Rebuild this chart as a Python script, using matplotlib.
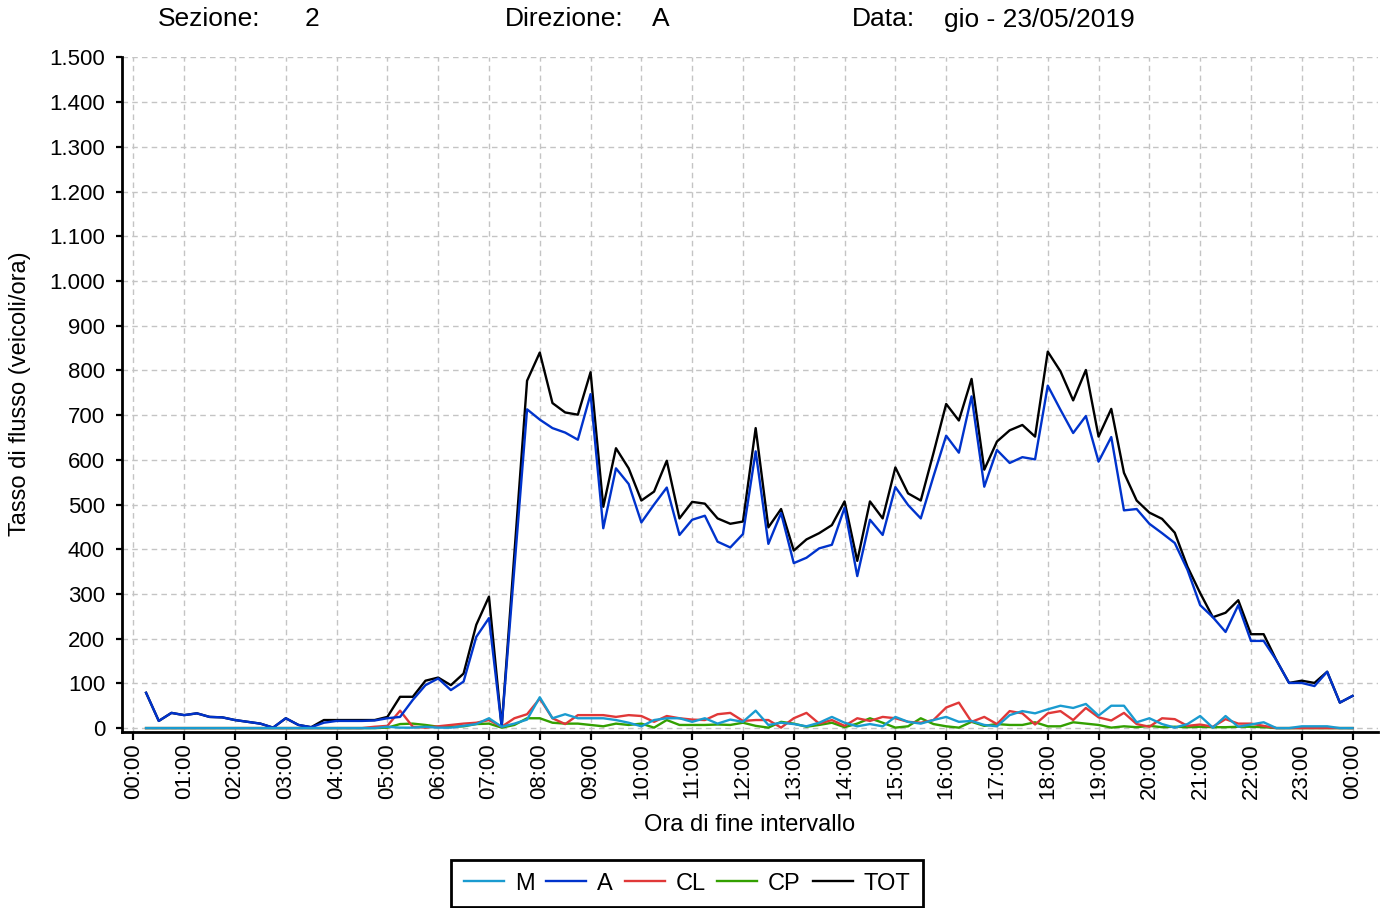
import numpy as np
import matplotlib
matplotlib.use("Agg")
import matplotlib.pyplot as plt
from matplotlib.ticker import FuncFormatter

plt.rcParams['font.family'] = ['Liberation Sans', 'DejaVu Sans']

# fine intervallo ogni 15 minuti: 00:15 ... 24:00
ore = np.arange(1, 97) * 0.25

A = [79, 16, 34, 29, 33, 25, 24, 18, 14, 10, 1, 22, 7, 2, 12, 16,
     16, 16, 17, 22, 25, 63, 96, 111, 85, 104, 204, 246, 3, 358, 713, 690,
     671, 661, 645, 747, 447, 581, 546, 460, 500, 538, 432, 466, 475, 417, 404, 434,
     619, 412, 481, 369, 381, 402, 410, 493, 340, 466, 432, 539, 499, 469, 563, 654,
     616, 742, 540, 622, 593, 606, 601, 766, 712, 660, 698, 596, 651, 487, 490, 457,
     436, 414, 354, 275, 248, 215, 275, 195, 195, 152, 101, 101, 94, 126, 57, 72]

TOT = [79, 16, 34, 29, 33, 25, 24, 18, 14, 10, 1, 22, 7, 2, 18, 18,
       18, 18, 18, 25, 70, 70, 106, 113, 96, 122, 231, 294, 3, 390, 777, 840,
       727, 706, 701, 796, 495, 626, 581, 509, 529, 598, 469, 506, 502, 469, 457, 462,
       671, 449, 490, 397, 422, 436, 454, 507, 374, 507, 469, 583, 525, 509, 615, 725,
       688, 781, 578, 641, 666, 678, 652, 842, 798, 733, 801, 652, 714, 571, 509, 482,
       468, 437, 361, 302, 248, 258, 286, 210, 210, 152, 101, 106, 101, 126, 57, 72]

M = [0, 0, 0, 0, 0, 0, 0, 0, 0, 0, 0, 0, 0, 0, 0, 0,
     0, 0, 0, 3, 1, 1, 3, 1, 1, 5, 9, 22, 3, 10, 19, 69,
     22, 31, 22, 22, 22, 18, 12, 4, 18, 22, 22, 14, 22, 10, 19, 14,
     39, 7, 12, 9, 4, 12, 25, 12, 4, 9, 4, 25, 14, 10, 18, 25,
     14, 16, 7, 4, 29, 38, 33, 42, 50, 45, 54, 28, 50, 50, 13, 22,
     9, 1, 9, 27, 1, 27, 3, 8, 13, 0, 0, 4, 4, 4, 0, 0]

CL = [0, 0, 0, 0, 0, 0, 0, 0, 0, 0, 0, 0, 0, 0, 0, 0,
      0, 0, 3, 5, 39, 3, 1, 4, 7, 10, 12, 18, 3, 22, 31, 66,
      22, 9, 29, 29, 29, 25, 29, 27, 14, 27, 22, 19, 18, 31, 34, 16,
      18, 18, 1, 22, 34, 10, 18, 5, 22, 16, 25, 22, 14, 12, 18, 46,
      57, 14, 25, 9, 38, 33, 8, 33, 38, 18, 45, 24, 17, 34, 9, 3,
      22, 20, 5, 8, 3, 20, 10, 10, 5, 0, 0, 0, 0, 0, 0, 0]

CP = [0, 0, 0, 0, 0, 0, 0, 0, 0, 0, 0, 0, 0, 0, 0, 0,
      0, 0, 0, 1, 9, 10, 7, 3, 3, 4, 9, 10, 1, 7, 22, 22,
      12, 10, 10, 7, 4, 10, 7, 10, 1, 18, 7, 7, 7, 8, 7, 12,
      5, 1, 14, 10, 3, 7, 12, 2, 10, 22, 12, 1, 4, 22, 9, 4,
      1, 14, 5, 9, 7, 7, 13, 4, 4, 13, 10, 7, 1, 4, 2, 5,
      2, 3, 2, 3, 2, 2, 3, 3, 2, 0, 0, 0, 0, 0, 0, 0]

etichette_ore = ["%02d:00" % h for h in range(24)] + ["00:00"]

fig = plt.figure(figsize=(13.86, 9.08), dpi=100)
ax = fig.add_axes([0.0878, 0.1942, 0.9064, 0.7425])

lw = 1.7
ax.plot(ore, TOT, color='black', lw=lw, label='TOT', zorder=2)
ax.plot(ore, CP, color='#33a000', lw=lw, label='CP', zorder=3)
ax.plot(ore, CL, color='#e03838', lw=lw, label='CL', zorder=4)
ax.plot(ore, A, color='#0033cc', lw=lw, label='A', zorder=5)
ax.plot(ore, M, color='#1a9bd0', lw=lw, label='M', zorder=6)

ax.set_xlim(-0.23, 24.5)
ax.set_ylim(-8, 1500)
ax.set_xticks(range(25))
ax.set_xticklabels(etichette_ore, rotation=90)
ax.set_yticks(range(0, 1501, 100))
ax.yaxis.set_major_formatter(FuncFormatter(lambda v, p: f"{int(v):,}".replace(",", ".")))

ax.grid(True, color='#c4c4c4', linestyle=(0, (4, 3)), lw=1.0, zorder=0)
for s in ['top', 'right']:
    ax.spines[s].set_visible(False)
for s in ['left', 'bottom']:
    ax.spines[s].set_linewidth(2.0)
ax.tick_params(axis='y', direction='out', length=4.5, width=1.6, labelsize=16, pad=7.5)
ax.tick_params(axis='x', direction='out', length=6, width=1.6, labelsize=16, pad=2.5)

fig.text(20 / 1386, 1 - 394 / 908, 'Tasso di flusso (veicoli/ora)', rotation=90,
         ha='center', va='center', fontsize=17)
fig.text(750 / 1386, 1 - 825 / 908, 'Ora di fine intervallo', ha='center', va='center', fontsize=17)

y_top = 1 - 19.5 / 908
for xp, t in [(158, 'Sezione:'), (305, '2'), (505, 'Direzione:'), (652, 'A'),
              (852, 'Data:'), (944, 'gio - 23/05/2019')]:
    fig.text(xp / 1386, y_top, t, ha='left', va='center', fontsize=19)

h, l = ax.get_legend_handles_labels()
ordine = ['M', 'A', 'CL', 'CP', 'TOT']
hl = dict(zip(l, h))
leg = fig.legend([hl[k] for k in ordine], ordine, loc='center', ncol=5,
                 bbox_to_anchor=(687 / 1386, 1 - 883.5 / 908), fontsize=17,
                 frameon=True, fancybox=False, framealpha=1, edgecolor='black',
                 handlelength=1.7, handletextpad=0.45, columnspacing=0.5,
                 borderpad=0.55)
leg.get_frame().set_linewidth(2.0)

fig.savefig('out.png', dpi=100)
